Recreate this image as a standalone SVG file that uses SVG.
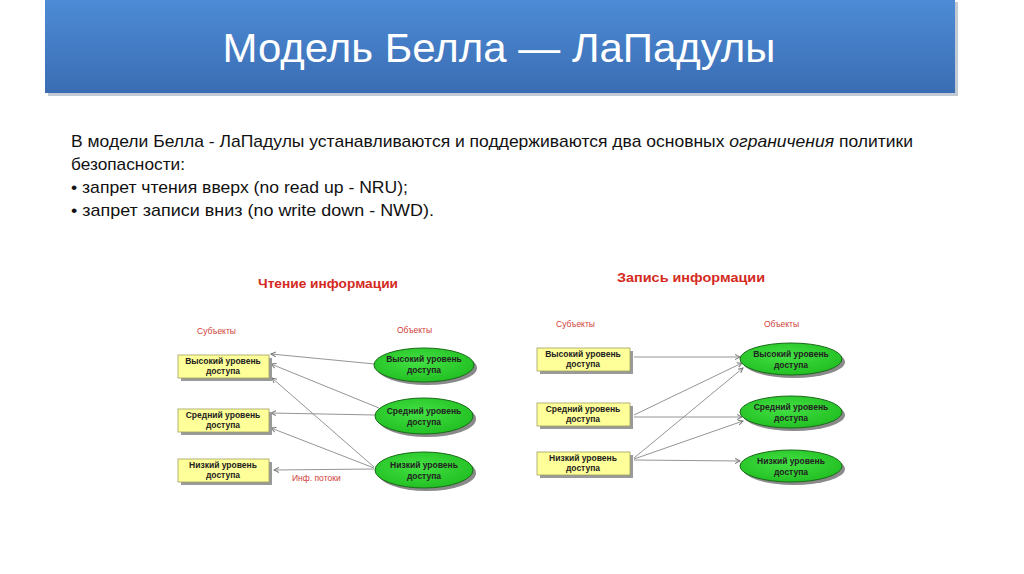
<svg xmlns="http://www.w3.org/2000/svg" width="1024" height="574" viewBox="0 0 1024 574">
<defs>
<linearGradient id="bar" x1="0" y1="0" x2="0" y2="1">
<stop offset="0" stop-color="#4d8bd6"/>
<stop offset="1" stop-color="#3a6db3"/>
</linearGradient>
<radialGradient id="grn" cx="0.45" cy="0.4" r="0.6">
<stop offset="0" stop-color="#44e044"/>
<stop offset="1" stop-color="#22c022"/>
</radialGradient>
<marker id="ah" markerWidth="6" markerHeight="6" refX="5" refY="3" orient="auto" markerUnits="userSpaceOnUse">
<path d="M0,0.5 L5,3 L0,5.5" fill="none" stroke="#777" stroke-width="1"/>
</marker>
</defs>
<style>
.body{font-family:"Liberation Sans",Arial,sans-serif;font-size:17px;fill:#111}
.head{font-family:"Liberation Sans",Arial,sans-serif;font-size:13px;font-weight:bold;fill:#d42a1e}
.lab{font-family:"Liberation Sans",Arial,sans-serif;font-size:8.5px;fill:#d0403a}
.nt{font-family:"Liberation Sans",Arial,sans-serif;font-size:8.5px;font-weight:bold;fill:#222;text-anchor:middle}
.box{fill:#ffff99;stroke:#a0a060;stroke-width:0.8}
.bsh{fill:#9a9a9a}
.ell{fill:url(#grn);stroke:#1a6a1a;stroke-width:1}
.esh{fill:#8a8a8a}
.ln{stroke:#888;stroke-width:0.9;fill:none;marker-end:url(#ah)}
</style>
<rect width="1024" height="574" fill="#ffffff"/>
<g id="titlebar">
<rect x="48" y="2" width="910" height="94" fill="#9aa8b8" opacity="0.6"/>
<rect x="45" y="0" width="910" height="93" fill="url(#bar)"/>
<text x="499" y="62" font-family="'Liberation Sans',Arial,sans-serif" font-size="40" fill="#ffffff" text-anchor="middle" textLength="553" lengthAdjust="spacingAndGlyphs">Модель Белла — ЛаПадулы</text>
</g>
<g id="bodytext">
<text class="body" x="71" y="147" textLength="842" lengthAdjust="spacingAndGlyphs">В модели Белла - ЛаПадулы устанавливаются и поддерживаются два основных <tspan font-style="italic">ограничения</tspan> политики</text>
<text class="body" x="71" y="170" textLength="114" lengthAdjust="spacingAndGlyphs">безопасности:</text>
<text class="body" x="71" y="193" textLength="337" lengthAdjust="spacingAndGlyphs">• запрет чтения вверх (no read up - NRU);</text>
<text class="body" x="71" y="216" textLength="363" lengthAdjust="spacingAndGlyphs">• запрет записи вниз (no write down - NWD).</text>
</g>
<g id="read-labels">
<text class="head" x="258" y="288" textLength="140" lengthAdjust="spacingAndGlyphs">Чтение информации</text>
<text class="lab" x="197" y="334">Субъекты</text>
<text class="lab" x="397" y="333">Объекты</text>
<text class="lab" x="292" y="481">Инф. потоки</text>
</g>
<g id="write-labels">
<text class="head" x="617" y="282" textLength="148" lengthAdjust="spacingAndGlyphs">Запись информации</text>
<text class="lab" x="556" y="327">Субъекты</text>
<text class="lab" x="764" y="327">Объекты</text>
</g>
<g id="connectors">
<line class="ln" x1="375" y1="364" x2="271" y2="354"/>
<line class="ln" x1="379" y1="408" x2="271" y2="364"/>
<line class="ln" x1="375" y1="415" x2="271" y2="413"/>
<line class="ln" x1="374" y1="467" x2="272" y2="378"/>
<line class="ln" x1="374" y1="468" x2="271" y2="428"/>
<line class="ln" x1="374" y1="469" x2="274" y2="470"/>
<line class="ln" x1="634" y1="357" x2="740" y2="357"/>
<line class="ln" x1="634" y1="415" x2="742" y2="363"/>
<line class="ln" x1="634" y1="417" x2="742" y2="417"/>
<line class="ln" x1="634" y1="458" x2="743" y2="368"/>
<line class="ln" x1="634" y1="459" x2="743" y2="421"/>
<line class="ln" x1="634" y1="460" x2="740" y2="461"/>
</g>
<g id="r-s1"><rect class="bsh" x="181" y="358" width="91" height="23"/><rect class="box" x="178" y="355" width="91" height="23"/><text class="nt" x="223" y="364">Высокий уровень</text><text class="nt" x="223" y="374">доступа</text></g>
<g id="r-s2"><rect class="bsh" x="181" y="412" width="91" height="23"/><rect class="box" x="178" y="409" width="91" height="23"/><text class="nt" x="223" y="418">Средний уровень</text><text class="nt" x="223" y="428">доступа</text></g>
<g id="r-s3"><rect class="bsh" x="181" y="462" width="91" height="23"/><rect class="box" x="178" y="459" width="91" height="23"/><text class="nt" x="223" y="468">Низкий уровень</text><text class="nt" x="223" y="478">доступа</text></g>
<g id="r-o1"><ellipse class="esh" cx="427" cy="368" rx="50" ry="17"/><ellipse class="ell" cx="424" cy="365" rx="50" ry="17"/><text class="nt" x="424" y="362">Высокий уровень</text><text class="nt" x="424" y="373">доступа</text></g>
<g id="r-o2"><ellipse class="esh" cx="427" cy="419" rx="49" ry="18"/><ellipse class="ell" cx="424" cy="416" rx="49" ry="18"/><text class="nt" x="424" y="414">Средний уровень</text><text class="nt" x="424" y="425">доступа</text></g>
<g id="r-o3"><ellipse class="esh" cx="427" cy="473" rx="49" ry="18"/><ellipse class="ell" cx="424" cy="470" rx="49" ry="18"/><text class="nt" x="424" y="468">Низкий уровень</text><text class="nt" x="424" y="479">доступа</text></g>
<g id="w-s1"><rect class="bsh" x="540" y="351" width="93" height="23"/><rect class="box" x="537" y="348" width="93" height="23"/><text class="nt" x="583" y="357">Высокий уровень</text><text class="nt" x="583" y="367">доступа</text></g>
<g id="w-s2"><rect class="bsh" x="540" y="406" width="93" height="23"/><rect class="box" x="537" y="403" width="93" height="23"/><text class="nt" x="583" y="412">Средний уровень</text><text class="nt" x="583" y="422">доступа</text></g>
<g id="w-s3"><rect class="bsh" x="540" y="455" width="93" height="23"/><rect class="box" x="537" y="452" width="93" height="23"/><text class="nt" x="583" y="461">Низкий уровень</text><text class="nt" x="583" y="471">доступа</text></g>
<g id="w-o1"><ellipse class="esh" cx="794" cy="362" rx="51" ry="16"/><ellipse class="ell" cx="791" cy="359" rx="51" ry="16"/><text class="nt" x="791" y="357">Высокий уровень</text><text class="nt" x="791" y="368">доступа</text></g>
<g id="w-o2"><ellipse class="esh" cx="794" cy="415" rx="51" ry="16"/><ellipse class="ell" cx="791" cy="412" rx="51" ry="16"/><text class="nt" x="791" y="410">Средний уровень</text><text class="nt" x="791" y="421">доступа</text></g>
<g id="w-o3"><ellipse class="esh" cx="794" cy="469" rx="51" ry="16"/><ellipse class="ell" cx="791" cy="466" rx="51" ry="16"/><text class="nt" x="791" y="464">Низкий уровень</text><text class="nt" x="791" y="475">доступа</text></g>
</svg>
